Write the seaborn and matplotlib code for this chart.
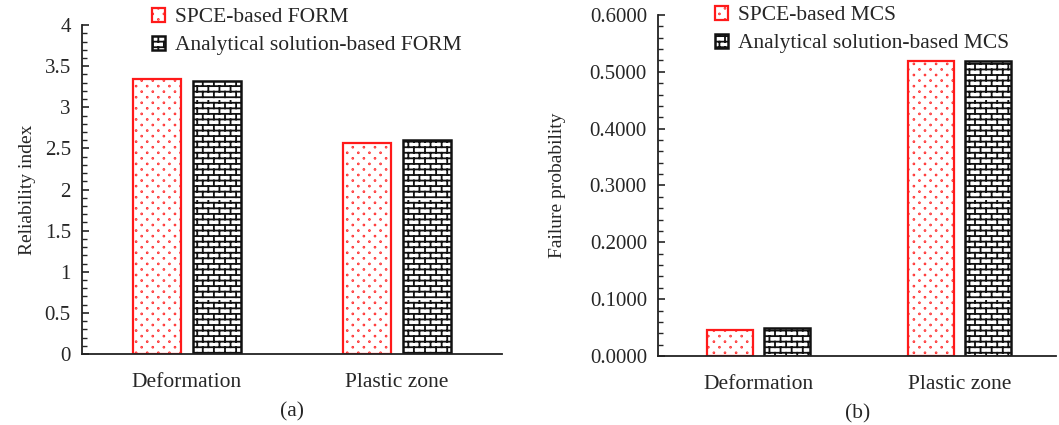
import numpy as np
import pandas as pd
import matplotlib
matplotlib.use("Agg")
import matplotlib.pyplot as plt
import matplotlib.hatch as mhatch
from matplotlib.path import Path
from matplotlib.ticker import MultipleLocator, FuncFormatter
import seaborn as sns

# data
cases = ["Deformation", "Plastic zone"]
form_methods = ["SPCE-based FORM", "Analytical solution-based FORM"]
mcs_methods = ["SPCE-based MCS", "Analytical solution-based MCS"]
beta_spce = [3.35, 2.56]
beta_analytical = [3.32, 2.60]
pf_spce = [0.0457, 0.5196]
pf_analytical = [0.0498, 0.5190]


# custom hatches: sparse staggered dots ('.') and bricks ('+')
class DotHatch(mhatch.HatchPatternBase):
    rows, cols, radius = 18, 9, 0.004

    def __init__(self, hatch, density):
        self.n = hatch.count('.')
        self.circle = Path.unit_circle()
        self.num_vertices = self.n and self.rows * self.cols * len(self.circle.vertices)

    def set_vertices_and_codes(self, vertices, codes):
        nv = len(self.circle.vertices)
        k = 0
        for i in range(self.rows):
            for j in range(self.cols):
                cx = (j + 0.25 + 0.5 * (i % 2)) / self.cols
                cy = (i + 0.5) / self.rows
                vertices[k:k + nv] = self.circle.vertices * self.radius + (cx, cy)
                codes[k:k + nv] = self.circle.codes
                k += nv


class BrickHatch(mhatch.HatchPatternBase):
    rows, cols = 18, 9

    def __init__(self, hatch, density):
        self.n = hatch.count('+')
        self.num_vertices = self.n and (self.rows * 2 + self.rows * self.cols * 2)

    def set_vertices_and_codes(self, vertices, codes):
        k = 0
        for i in range(self.rows):
            y = (i + 0.5) / self.rows
            vertices[k] = (0, y); vertices[k + 1] = (1, y)
            codes[k] = Path.MOVETO; codes[k + 1] = Path.LINETO
            k += 2
        for i in range(self.rows):
            y0, y1 = (i + 0.5) / self.rows, (i + 1.5) / self.rows
            for j in range(self.cols):
                x = (j + 0.25 + 0.5 * (i % 2)) / self.cols
                vertices[k] = (x, y0); vertices[k + 1] = (x, y1)
                codes[k] = Path.MOVETO; codes[k + 1] = Path.LINETO
                k += 2


mhatch._hatch_types = [DotHatch, BrickHatch]

sns.set_style("ticks")
plt.rcParams['font.family'] = ['Liberation Serif', 'DejaVu Serif']
plt.rcParams['hatch.linewidth'] = 1.3

fig = plt.figure(figsize=(10.59, 4.25), dpi=100)
ax1 = fig.add_axes([0.0774, 0.167, 0.3966, 0.774])
ax2 = fig.add_axes([0.6214, 0.1624, 0.376, 0.8024])

df1 = pd.DataFrame({
    "case": cases * 2,
    "method": [form_methods[0]] * 2 + [form_methods[1]] * 2,
    "value": beta_spce + beta_analytical,
})
df2 = pd.DataFrame({
    "case": cases * 2,
    "method": [mcs_methods[0]] * 2 + [mcs_methods[1]] * 2,
    "value": pf_spce + pf_analytical,
})

styles = [("#ff1a1a", ".", 1.6), ("#111111", "+", 1.8)]

for ax, df, ylab, xlab in [(ax1, df1, "Reliability index", "(a)"),
                           (ax2, df2, "Failure probability", "(b)")]:
    sns.barplot(data=df, x="case", y="value", hue="method", ax=ax,
                palette=["white", "white"], width=0.572, gap=0.2,
                errorbar=None, legend=False)
    for cont, (ec, h, lw) in zip(ax.containers, styles):
        for p in cont:
            p.set_edgecolor(ec)
            p.set_hatch(h)
            p.set_linewidth(lw)
    ax.set_ylabel(ylab, fontsize=14)
    ax.set_xlabel(xlab, fontsize=15.5, labelpad=7)
    sns.despine(ax=ax)
    for s in ("left", "bottom"):
        ax.spines[s].set_linewidth(1.3)
        ax.spines[s].set_color("#222222")
    ax.tick_params(axis="x", length=0, pad=14, labelsize=15.5)
    ax.tick_params(axis="y", which="major", direction="in", length=5,
                   width=1.2, labelsize=15, pad=8)
    ax.tick_params(axis="y", which="minor", direction="in", length=3.5, width=1.0)
    labels = form_methods if ax is ax1 else mcs_methods
    top = 8 if ax is ax1 else 6
    ax.legend(ax.containers, labels, loc="upper left", frameon=False,
              fontsize=15.5, handlelength=0.6, handleheight=0.6,
              handletextpad=0.45, labelspacing=0.4, borderpad=0,
              borderaxespad=0,
              bbox_to_anchor=((152 if ax is ax1 else 715) / 1059, 1 - top / 425),
              bbox_transform=fig.transFigure)

ax1.set_xlim(-0.5, 1.5)
ax1.set_ylim(0, 4)
ax1.yaxis.set_major_locator(MultipleLocator(0.5))
ax1.yaxis.set_minor_locator(MultipleLocator(0.1))
ax1.yaxis.set_major_formatter(FuncFormatter(lambda v, p: "%g" % v))

ax2.set_xlim(-0.5, 1.48)
ax2.set_ylim(0, 0.6)
ax2.yaxis.set_major_locator(MultipleLocator(0.1))
ax2.yaxis.set_minor_locator(MultipleLocator(0.02))
ax2.yaxis.set_major_formatter(FuncFormatter(lambda v, p: "%.4f" % v))

ax1.yaxis.set_label_coords(-0.11, 0.5)
ax2.yaxis.set_label_coords(-0.232, 0.5)

fig.savefig("out.png", dpi=100)
